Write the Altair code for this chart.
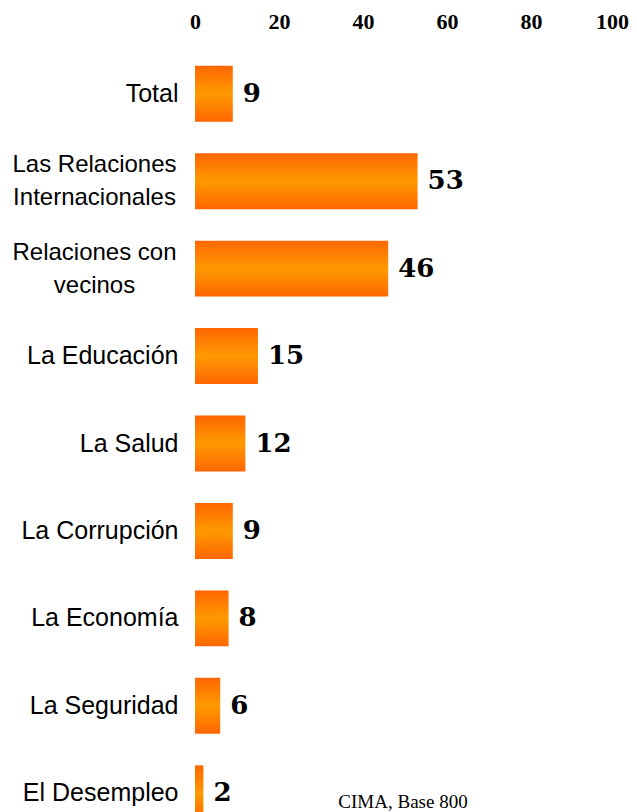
import altair as alt
import pandas as pd

categories = [
    "Total",
    "Las Relaciones|Internacionales",
    "Relaciones con|vecinos",
    "La Educación",
    "La Salud",
    "La Corrupción",
    "La Economía",
    "La Seguridad",
    "El Desempleo",
]
values = [9, 53, 46, 15, 12, 9, 8, 6, 2]
x_ticks = [0, 20, 40, 60, 80, 100]
source_note = ["CIMA, Base 800"]

df = pd.DataFrame({"cat": categories, "val": values})
note_df = pd.DataFrame({"t": source_note})

grad = alt.Gradient(
    gradient="linear", x1=0, x2=0, y1=0, y2=1,
    stops=[
        alt.GradientStop(color="#FF6600", offset=0),
        alt.GradientStop(color="#FF9A00", offset=0.5),
        alt.GradientStop(color="#FF6600", offset=1),
    ],
)

multi = "indexof(datum.value, '|') >= 0"

y = alt.Y(
    "cat:N", sort=categories,
    scale=alt.Scale(paddingInner=0.36, paddingOuter=0.18),
    axis=alt.Axis(
        title=None, labelExpr="split(datum.label, '|')",
        labelFont="Liberation Sans", labelColor="black",
        labelFontSize={"condition": {"test": multi, "value": 24}, "value": 25},
        labelAlign={"condition": {"test": multi, "value": "center"}, "value": "right"},
        labelPadding={"condition": {"test": multi, "value": 101}, "value": 17},
        labelOffset={"condition": {"test": multi, "value": -16}, "value": 0},
        labelLimit=400, ticks=False, tickSize=0, domain=False,
        labelLineHeight=33,
    ),
)
x = alt.X(
    "val:Q", scale=alt.Scale(domain=[0, 100]),
    axis=alt.Axis(
        orient="top", values=x_ticks, title=None, grid=False, ticks=False,
        tickSize=0, domain=False, labelFont="Liberation Serif", labelFontWeight="bold",
        labelFontSize=22, labelPadding=17, labelColor="black", labelFlush=False,
        labelOffset={"condition": {"test": "datum.value == 100", "value": -3}, "value": 0},
    ),
)

base = alt.Chart(df)
bars = base.mark_bar(color=grad).encode(x=x, y=y)
labels = base.mark_text(
    align="left", baseline="middle", dx=10, font="DejaVu Serif",
    fontWeight="bold", fontSize=26, color="black",
).encode(x="val:Q", y=alt.Y("cat:N", sort=categories), text="val:Q")
note = alt.Chart(note_df).mark_text(
    align="center", baseline="alphabetic", font="Liberation Serif", fontSize=19,
    color="black",
).encode(x=alt.value(208), y=alt.value(758), text="t:N")

chart = (
    alt.layer(bars, labels, note)
    .properties(
        width=420, height=787, autosize=alt.AutoSizeParams(type="none"),
        padding={"left": 187, "top": 42, "right": 14, "bottom": 0},
    )
    .configure_view(stroke=None)
)

chart.save("out.html", embed_options={"renderer": "svg", "actions": False})
